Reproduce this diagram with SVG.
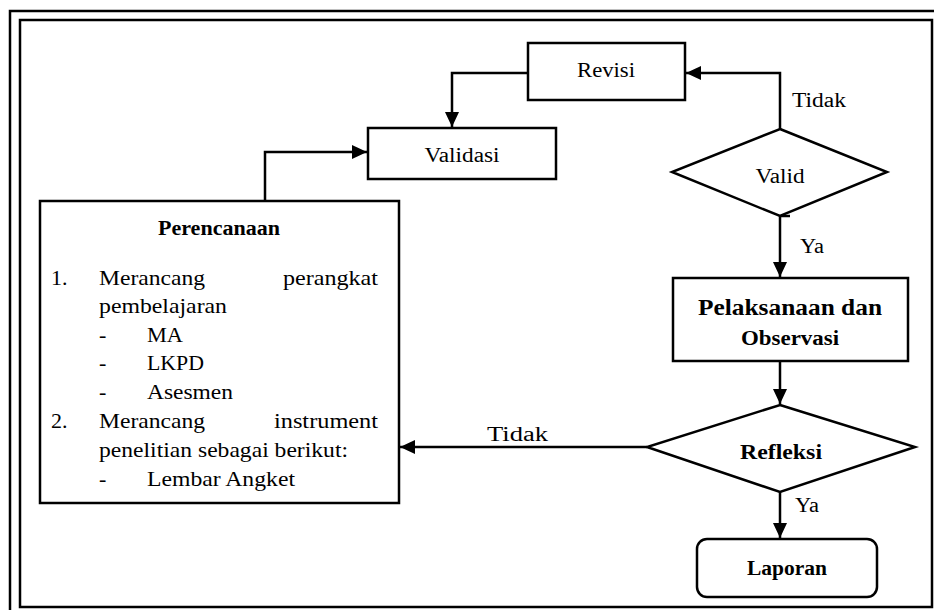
<svg xmlns="http://www.w3.org/2000/svg" width="934" height="610" viewBox="0 0 934 610">
<style>
.box{fill:#fff;stroke:#000;stroke-width:2.5}
.frame{fill:none;stroke:#000;stroke-width:2.5}
.ln{fill:none;stroke:#000;stroke-width:2.5}
text{font-family:"Liberation Serif","DejaVu Serif",serif;fill:#000}
.t{font-size:20px}
.b{font-size:20px;font-weight:bold}
.p{font-size:22px}
</style>
<defs>
<marker id="ah" viewBox="0 0 15 14" refX="15" refY="7" markerWidth="15" markerHeight="14" markerUnits="userSpaceOnUse" orient="auto">
<path d="M0,0 L15,7 L0,14 z" fill="#000"/>
</marker>
</defs>
<rect x="10" y="11" width="940" height="620" class="frame"/>
<rect x="20" y="20" width="912" height="587" class="frame"/>
<g id="connectors">
<path class="ln" d="M780,129 V73 H686" marker-end="url(#ah)"/>
<path class="ln" d="M527,73 H452 V127" marker-end="url(#ah)"/>
<path class="ln" d="M265,201 V152 H367" marker-end="url(#ah)"/>
<path class="ln" d="M780,216 V277" marker-end="url(#ah)"/>
<path class="ln" d="M780,216 H790"/>
<path class="ln" d="M780,361 V404" marker-end="url(#ah)"/>
<path class="ln" d="M647,447 H400" marker-end="url(#ah)"/>
<path class="ln" d="M780,492 V538" marker-end="url(#ah)"/>
<text class="t" x="792" y="107" textLength="54" lengthAdjust="spacingAndGlyphs">Tidak</text>
<text class="t" x="800" y="253" textLength="24" lengthAdjust="spacingAndGlyphs">Ya</text>
<text class="t" x="487" y="441" textLength="61" lengthAdjust="spacingAndGlyphs">Tidak</text>
<text class="t" x="795" y="512" textLength="24" lengthAdjust="spacingAndGlyphs">Ya</text>
</g>
<g id="revisi">
<rect class="box" x="528" y="43" width="157" height="57"/>
<text class="t" x="606" y="77" text-anchor="middle" textLength="58" lengthAdjust="spacingAndGlyphs">Revisi</text>
</g>
<g id="validasi">
<rect class="box" x="368" y="128" width="188" height="51"/>
<text class="t" x="462" y="162" text-anchor="middle" textLength="75" lengthAdjust="spacingAndGlyphs">Validasi</text>
</g>
<g id="valid">
<polygon class="box" points="780,129 887,172 780,216 672,172"/>
<text class="t" x="780" y="183" text-anchor="middle" textLength="49" lengthAdjust="spacingAndGlyphs">Valid</text>
</g>
<g id="perencanaan">
<rect class="box" x="40" y="201" width="359" height="302"/>
<text class="b" x="219" y="235" text-anchor="middle" textLength="122" lengthAdjust="spacingAndGlyphs">Perencanaan</text>
<text class="p" x="51" y="285">1.</text>
<text class="p" x="99" y="285" textLength="106" lengthAdjust="spacingAndGlyphs">Merancang</text>
<text class="p" x="283" y="285" textLength="95" lengthAdjust="spacingAndGlyphs">perangkat</text>
<text class="p" x="99" y="313" textLength="128" lengthAdjust="spacingAndGlyphs">pembelajaran</text>
<text class="p" x="99" y="342">-</text>
<text class="p" x="147" y="342" textLength="36" lengthAdjust="spacingAndGlyphs">MA</text>
<text class="p" x="99" y="370">-</text>
<text class="p" x="147" y="370" textLength="57" lengthAdjust="spacingAndGlyphs">LKPD</text>
<text class="p" x="99" y="399">-</text>
<text class="p" x="147" y="399" textLength="86" lengthAdjust="spacingAndGlyphs">Asesmen</text>
<text class="p" x="51" y="428">2.</text>
<text class="p" x="99" y="428" textLength="106" lengthAdjust="spacingAndGlyphs">Merancang</text>
<text class="p" x="274" y="428" textLength="104" lengthAdjust="spacingAndGlyphs">instrument</text>
<text class="p" x="99" y="457" textLength="249" lengthAdjust="spacingAndGlyphs">penelitian sebagai berikut:</text>
<text class="p" x="99" y="486">-</text>
<text class="p" x="147" y="486" textLength="148" lengthAdjust="spacingAndGlyphs">Lembar Angket</text>
</g>
<g id="pelaksanaan">
<rect class="box" x="673" y="278" width="235" height="83"/>
<text class="b" x="790" y="315" text-anchor="middle" style="font-size:23px" textLength="184" lengthAdjust="spacingAndGlyphs">Pelaksanaan dan</text>
<text class="b" x="790" y="345" text-anchor="middle" textLength="98" lengthAdjust="spacingAndGlyphs">Observasi</text>
</g>
<g id="refleksi">
<polygon class="box" points="780,405 915,447 780,492 647,447"/>
<text class="b" x="781" y="459" text-anchor="middle" style="font-size:21px" textLength="82" lengthAdjust="spacingAndGlyphs">Refleksi</text>
</g>
<g id="laporan">
<rect class="box" x="697" y="539" width="180" height="58" rx="10" ry="10"/>
<text class="b" x="787" y="575" text-anchor="middle" textLength="80" lengthAdjust="spacingAndGlyphs">Laporan</text>
</g>
</svg>
